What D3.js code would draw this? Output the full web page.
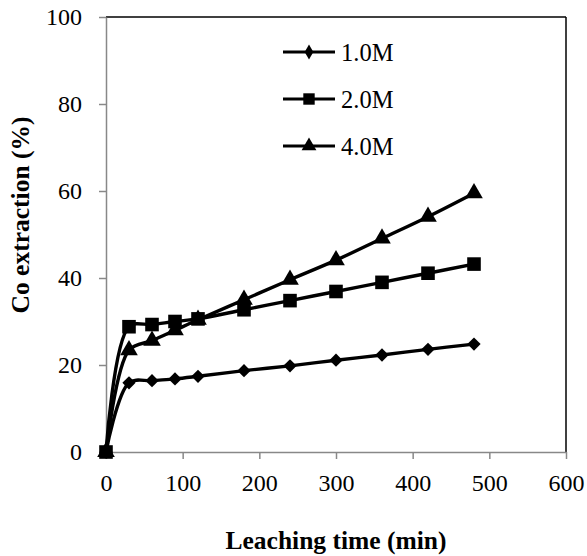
<!DOCTYPE html>
<html>
<head>
<meta charset="utf-8">
<script src="https://cdn.jsdelivr.net/npm/d3@7"></script>
<style>
  body { margin: 0; background: #fff; }
  svg { display: block; font-family: "Liberation Serif", "Times New Roman", serif; }
</style>
</head>
<body>
<div id="chart"></div>
<script>
// Leaching time (min)
const times = [0, 30, 60, 90, 120, 180, 240, 300, 360, 420, 480];
// Co extraction (%) for each acid concentration
const conc1 = [0, 15.9, 16.4, 16.8, 17.4, 18.7, 19.8, 21.1, 22.3, 23.6, 24.8];
const conc2 = [0, 28.8, 29.3, 30.0, 30.6, 32.7, 34.8, 36.9, 39.0, 41.1, 43.2];
const conc4 = [0, 23.4, 25.6, 28.0, 30.4, 35.0, 39.6, 44.1, 49.1, 54.1, 59.5];
const seriesNames = ['1.0M', '2.0M', '4.0M'];
const xTicks = [0, 100, 200, 300, 400, 500, 600];
const yTicks = [0, 20, 40, 60, 80, 100];

const width = 587, height = 556;
const margin = { top: 17, right: 21, bottom: 104, left: 106 };
const innerW = width - margin.left - margin.right;
const innerH = height - margin.top - margin.bottom;

const svg = d3.select('#chart').append('svg')
  .attr('width', width)
  .attr('height', height);

const g = svg.append('g')
  .attr('transform', `translate(${margin.left},${margin.top})`);

const x = d3.scaleLinear().domain([0, 600]).range([0, innerW]);
const y = d3.scaleLinear().domain([0, 100]).range([innerH, 0]);

// plot frame: black top/right, grey axes
g.append('line').attr('x1', 0).attr('x2', innerW).attr('y1', 0).attr('y2', 0)
  .attr('stroke', '#000').attr('stroke-width', 1.5);
g.append('line').attr('x1', innerW).attr('x2', innerW).attr('y1', 0).attr('y2', innerH)
  .attr('stroke', '#000').attr('stroke-width', 1.5);

const xAxis = g.append('g')
  .attr('transform', `translate(0,${innerH})`)
  .call(d3.axisBottom(x).tickValues(xTicks).tickSize(7).tickPadding(15).tickSizeOuter(0));
const yAxis = g.append('g')
  .call(d3.axisLeft(y).tickValues(yTicks).tickSize(7).tickPadding(17).tickSizeOuter(0));

[xAxis, yAxis].forEach(a => {
  a.select('.domain').attr('stroke', '#888').attr('stroke-width', 1.5);
  a.selectAll('.tick line').attr('stroke', '#888').attr('stroke-width', 1.5);
  a.selectAll('.tick text')
    .attr('fill', '#000')
    .style('font-family', '"Liberation Serif", "Times New Roman", serif')
    .style('font-size', '24px');
});

// axis titles
svg.append('text')
  .attr('x', margin.left + innerW / 2)
  .attr('y', 549)
  .attr('text-anchor', 'middle')
  .attr('font-size', '25.5px')
  .attr('font-weight', 'bold')
  .text('Leaching time (min)');

svg.append('text')
  .attr('transform', 'translate(29,215) rotate(-90)')
  .attr('text-anchor', 'middle')
  .attr('font-size', '25.5px')
  .attr('font-weight', 'bold')
  .text('Co extraction (%)');

// series
const allSeries = [conc1, conc2, conc4];
const symbols = [d3.symbolSquare, d3.symbolSquare, d3.symbolTriangle];
const symbolSizes = [88, 185, 135];
const rotations = [45, 0, 0];

const line = d3.line()
  .x(d => x(d[0]))
  .y(d => y(d[1]))
  .curve(d3.curveCatmullRom.alpha(0.5));

allSeries.forEach((vals, i) => {
  const pts = times.map((t, j) => [t, vals[j]]);
  g.append('path')
    .datum(pts)
    .attr('fill', 'none')
    .attr('stroke', '#000')
    .attr('stroke-width', 3.4)
    .attr('d', line);

  g.selectAll(`.pt-${i}`)
    .data(pts)
    .enter().append('path')
    .attr('class', `pt-${i}`)
    .attr('transform', d => `translate(${x(d[0])},${y(d[1])}) rotate(${rotations[i]})`)
    .attr('d', d3.symbol().type(symbols[i]).size(symbolSizes[i]))
    .attr('fill', '#000');
});

// legend
const legend = svg.append('g').attr('transform', 'translate(283,52)');
const legendSymbols = [d3.symbolDiamond, d3.symbolSquare, d3.symbolTriangle];
seriesNames.forEach((name, i) => {
  const row = legend.append('g').attr('transform', `translate(0,${i * 47})`);
  row.append('line').attr('x1', 0).attr('x2', 52).attr('y1', 0).attr('y2', 0)
    .attr('stroke', '#000').attr('stroke-width', 3.2);
  row.append('path')
    .attr('transform', 'translate(26,0)')
    .attr('d', d3.symbol().type(legendSymbols[i]).size([65, 130, 95][i]))
    .attr('fill', '#000');
  row.append('text')
    .attr('x', 58)
    .attr('y', 0)
    .attr('dy', '0.35em')
    .attr('font-size', '24.5px')
    .text(name);
});
</script>
</body>
</html>
